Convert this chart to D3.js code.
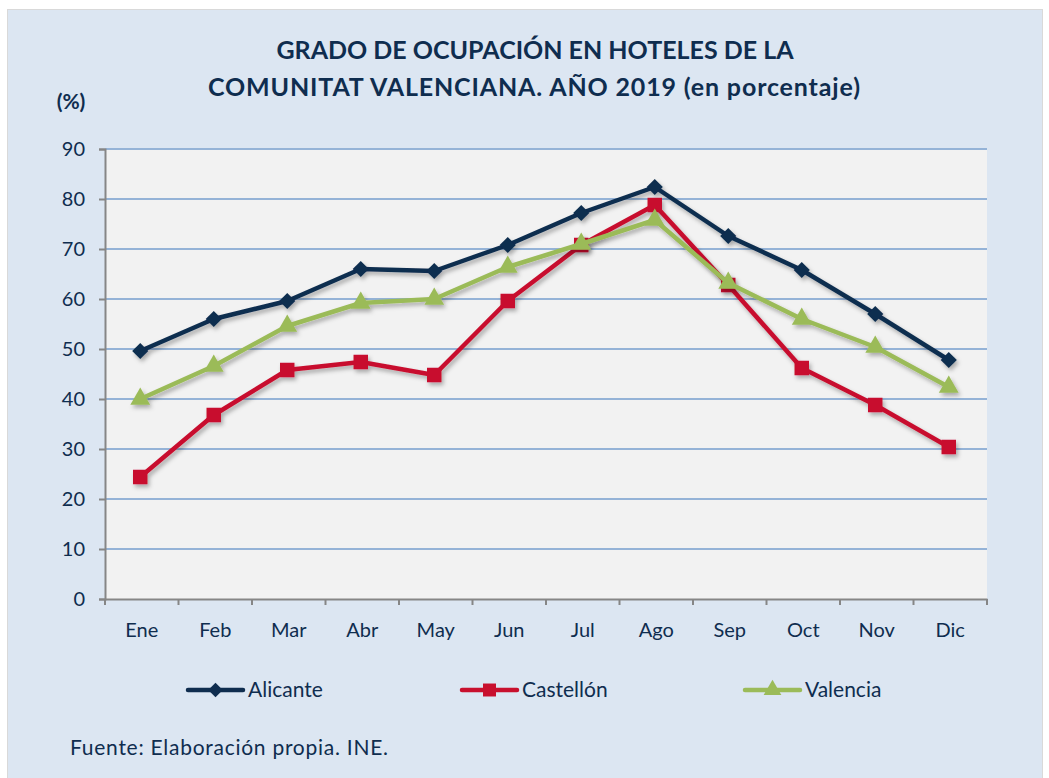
<!DOCTYPE html>
<meta charset="utf-8">
<style>
	body { margin: 0; background: #fff; }
	text { font-family: Lato, "Open Sans", sans-serif; fill: #0f2d4f; }
</style>
<body>
<script src="https://d3js.org/d3.v7.min.js"></script>
<script>

	//Data
	var months = ["Ene", "Feb", "Mar", "Abr", "May", "Jun", "Jul", "Ago", "Sep", "Oct", "Nov", "Dic"];
	var alicante = [49.6, 56.0, 59.6, 66.0, 65.6, 70.8, 77.2, 82.4, 72.6, 65.8, 57.0, 47.8];
	var castellon = [24.4, 36.8, 45.8, 47.4, 44.8, 59.6, 70.8, 78.8, 62.8, 46.2, 38.8, 30.4];
	var valencia = [40.0, 46.6, 54.6, 59.2, 60.0, 66.4, 71.0, 75.8, 63.2, 56.0, 50.4, 42.4];
	var yTicks = [0, 10, 20, 30, 40, 50, 60, 70, 80, 90];

	var series = [
		{ name: "Alicante", values: alicante, color: "#0f2d4f", shape: d3.symbolSquare, size: 130, rot: 45 },
		{ name: "Castellón", values: castellon, color: "#c8102e", shape: d3.symbolSquare, size: 210, rot: 0 },
		{ name: "Valencia", values: valencia, color: "#9bbb59", shape: d3.symbolTriangle, size: 170, rot: 0 }
	];

	var W = 1049, H = 778;
	var pLeft = 105, pRight = 987, pTop = 149, pBottom = 599;

	var svg = d3.select("body").append("svg")
		.attr("width", W)
		.attr("height", H);

	var defs = svg.append("defs");
	var f = defs.append("filter").attr("id", "shadow")
		.attr("x", "-10%").attr("y", "-10%").attr("width", "120%").attr("height", "130%");
	f.append("feDropShadow")
		.attr("dx", 2).attr("dy", 3).attr("stdDeviation", 2)
		.attr("flood-color", "#000").attr("flood-opacity", 0.3);

	//Background
	svg.append("rect").attr("width", W).attr("height", H).attr("fill", "#fff");
	svg.append("rect")
		.attr("x", 7.5).attr("y", 9.5)
		.attr("width", W - 14).attr("height", H - 9)
		.attr("fill", "#dce6f2")
		.attr("stroke", "#d9d9d9");

	//Scales
	var x = d3.scaleBand().domain(months).range([pLeft, pRight]);
	var y = d3.scaleLinear().domain([0, 90]).range([pBottom, pTop]);

	//Plot area
	svg.append("rect")
		.attr("x", pLeft).attr("y", pTop)
		.attr("width", pRight - pLeft).attr("height", pBottom - pTop)
		.attr("fill", "#f2f2f2");

	//Gridlines
	svg.append("g").selectAll("line")
		.data(yTicks.filter(function(d) { return d > 0; }))
		.enter().append("line")
		.attr("x1", pLeft).attr("x2", pRight)
		.attr("y1", function(d) { return y(d); })
		.attr("y2", function(d) { return y(d); })
		.attr("stroke", "#95b3d7")
		.attr("stroke-width", 2);

	//Y axis
	var yAxis = svg.append("g")
		.attr("transform", "translate(" + pLeft + ",0)")
		.call(d3.axisLeft(y).tickValues(yTicks).tickSize(6).tickPadding(14));
	yAxis.select(".domain").attr("stroke", "#868686").attr("stroke-width", 2);
	yAxis.selectAll(".tick line").attr("stroke", "#868686").attr("stroke-width", 2);
	yAxis.selectAll("text")
		.attr("font-size", "20px")
		.attr("font-family", "Lato, sans-serif")
		.attr("fill", "#0f2d4f");

	//X axis
	var xAxis = svg.append("g")
		.attr("transform", "translate(0," + pBottom + ")")
		.call(d3.axisBottom(x).tickSize(0).tickPadding(24));
	xAxis.select(".domain").attr("stroke", "#868686").attr("stroke-width", 2);
	xAxis.selectAll("text")
		.attr("font-size", "20px")
		.attr("font-family", "Lato, sans-serif")
		.attr("fill", "#0f2d4f");
	xAxis.selectAll(".band-tick")
		.data(d3.range(months.length + 1))
		.enter().append("line")
		.attr("x1", function(i) { return pLeft + i * x.step(); })
		.attr("x2", function(i) { return pLeft + i * x.step(); })
		.attr("y1", 0).attr("y2", 6)
		.attr("stroke", "#868686").attr("stroke-width", 2);

	//Lines
	var cx = function(i) { return x(months[i]) + x.bandwidth() / 2 - 1.5; };
	var line = d3.line()
		.x(function(d, i) { return cx(i); })
		.y(function(d) { return y(d); });

	series.forEach(function(s) {
		var g = svg.append("g").attr("filter", "url(#shadow)");
		g.append("path")
			.datum(s.values)
			.attr("d", line)
			.attr("fill", "none")
			.attr("stroke", s.color)
			.attr("stroke-width", 4.5)
			.attr("stroke-linejoin", "round");
		g.selectAll("path.mark")
			.data(s.values)
			.enter().append("path")
			.attr("class", "mark")
			.attr("d", d3.symbol().type(s.shape).size(s.size))
			.attr("transform", function(d, i) {
				return "translate(" + cx(i) + "," + y(d) + ") rotate(" + s.rot + ")";
			})
			.attr("fill", s.color);
	});

	//Title
	var title = svg.append("text")
		.attr("text-anchor", "middle")
		.attr("font-size", "25px")
		.attr("font-weight", "bold");
	title.append("tspan").attr("x", 535).attr("y", 59).text("GRADO DE OCUPACIÓN EN HOTELES  DE LA");
	title.append("tspan").attr("x", 534).attr("y", 96)
		.attr("textLength", 652).attr("lengthAdjust", "spacing")
		.text("COMUNITAT VALENCIANA. AÑO 2019  (en porcentaje)");

	svg.append("text")
		.attr("x", 71).attr("y", 109)
		.attr("text-anchor", "middle")
		.attr("font-size", "21px")
		.attr("font-weight", "bold")
		.text("(%)");

	//Legend
	var legendX = [188, 462, 745];
	var legend = svg.append("g").selectAll("g")
		.data(series)
		.enter().append("g")
		.attr("transform", function(d, i) { return "translate(" + legendX[i] + ",690)"; });
	legend.append("line")
		.attr("x1", 0).attr("x2", 55)
		.attr("stroke", function(d) { return d.color; })
		.attr("stroke-width", 4.5)
		.attr("stroke-linecap", "round");
	legend.append("path")
		.attr("d", function(d) { return d3.symbol().type(d.shape).size(d.size * 0.8)(); })
		.attr("transform", function(d) { return "translate(27.5,0) rotate(" + d.rot + ")"; })
		.attr("fill", function(d) { return d.color; });
	legend.append("text")
		.attr("x", 60).attr("y", 7)
		.attr("font-size", "21px")
		.text(function(d) { return d.name; });

	//Source
	svg.append("text")
		.attr("x", 70).attr("y", 755)
		.attr("font-size", "21px")
		.attr("textLength", 318).attr("lengthAdjust", "spacing")
		.text("Fuente: Elaboración propia. INE.");

</script>
</body>
